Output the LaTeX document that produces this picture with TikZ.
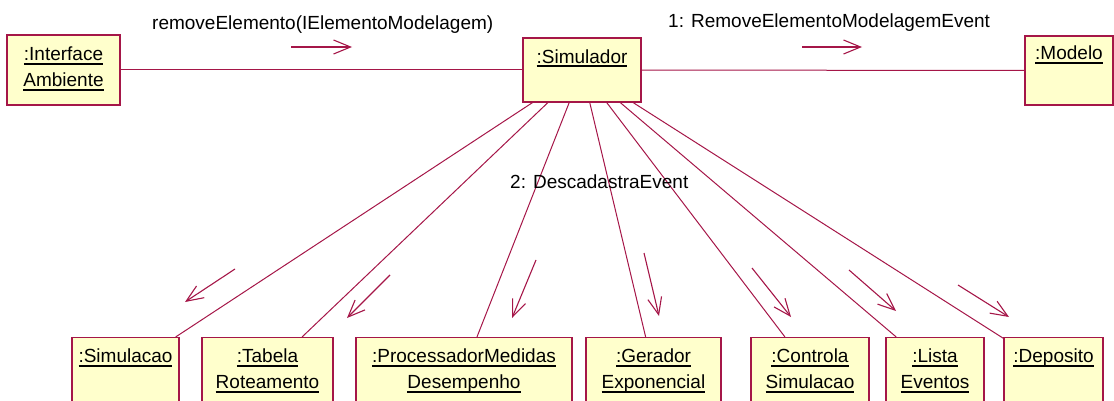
\documentclass[tikz,border=0pt]{standalone}
\usepackage{fontspec}
\setmainfont{Liberation Sans}
\usetikzlibrary{arrows.meta}

\definecolor{umlline}{RGB}{165,22,72}
\definecolor{umlfill}{RGB}{255,255,204}

% underlined object name with a fixed rule below the baseline
\newcommand\uln[1]{\setbox0\hbox{#1}\rlap{\rule[-3.6pt]{\wd0}{1.9pt}}\box0}
% two-line object name, baseline on the first line
\newcommand\objtwo[2]{\begin{tabular}[t]{@{}c@{}}\uln{#1}\\\uln{#2}\end{tabular}}

\begin{document}
\begin{tikzpicture}[x=1pt,y=-1pt,
  obj/.style={draw=umlline,fill=umlfill,line width=1.1pt,inner sep=0pt},
  objname/.style={anchor=base,inner sep=0pt,font=\fontsize{19}{26}\selectfont},
  msg/.style={anchor=base west,inner sep=0pt,font=\fontsize{19}{23}\selectfont},
  link/.style={draw=umlline,line width=1pt},
  flow/.style={draw=umlline,line width=1.1pt,-{Straight Barb[length=17pt,width=14pt,line width=1.1pt]}}]

\useasboundingbox (0,0) rectangle (1114,401);
\clip (0,0) rectangle (1114,401);

% ---- objects on the top row
\node[obj,minimum width=113pt,minimum height=70pt] (iface) at (63.5,70) {};
\node[obj,minimum width=118pt,minimum height=64pt] (sim) at (582,70) {};
\node[obj,minimum width=88pt,minimum height=69pt] (modelo) at (1069,70.5) {};

% ---- objects on the bottom row
\begin{scope}[every node/.append style={minimum height=65pt}]
\node[obj,minimum width=107pt] (simc) at (125.5,370) {};
\node[obj,minimum width=131pt] (tab)  at (267.5,370) {};
\node[obj,minimum width=216pt] (proc) at (464,370) {};
\node[obj,minimum width=135pt] (ger)  at (653.5,370) {};
\node[obj,minimum width=118pt] (ctl)  at (810,370) {};
\node[obj,minimum width=98pt]  (lst)  at (935,370) {};
\node[obj,minimum width=99pt]  (dep)  at (1053.5,370) {};
\end{scope}

% ---- links between the objects
\path[link] (iface) -- (sim);
\path[link] (sim) -- (modelo);
\foreach \t in {simc,tab,proc,ger,ctl,lst,dep}
  \path[link] (sim) -- (\t);

% ---- object names
\node[objname] (iface-t) at ([yshift=-26.5pt]iface.north) {\objtwo{:Interface}{Ambiente}};
\node[objname] (sim-t)   at ([yshift=-26pt]sim.north) {\uln{:Simulador}};
\node[objname] (mod-t)   at ([yshift=-24.5pt]modelo.north) {\uln{:Modelo}};
\node[objname] (simc-t)  at ([yshift=-26pt]simc.north) {\uln{:Simulacao}};
\node[objname] (tab-t)   at ([yshift=-26pt]tab.north) {\objtwo{:Tabela}{Roteamento}};
\node[objname] (proc-t)  at ([yshift=-26pt]proc.north) {\objtwo{:ProcessadorMedidas}{Desempenho}};
\node[objname] (ger-t)   at ([yshift=-26pt]ger.north) {\objtwo{:Gerador}{Exponencial}};
\node[objname] (ctl-t)   at ([yshift=-26pt]ctl.north) {\objtwo{:Controla}{Simulacao}};
\node[objname] (lst-t)   at ([yshift=-26pt]lst.north) {\objtwo{:Lista}{Eventos}};
\node[objname] (dep-t)   at ([yshift=-26pt]dep.north) {\uln{:Deposito}};

% ---- messages
\node[msg] (m0) at (152,30) {removeElemento(IElementoModelagem)};
\node[msg] (m1) at (668,28) {1: RemoveElementoModelagemEvent};
\node[msg] (m2) at (510,189) {2: DescadastraEvent};

\coordinate (a0s) at (291,47);  \coordinate (a0e) at (352,47);
\coordinate (a1s) at (802,47);  \coordinate (a1e) at (862,47);
\coordinate (b1s) at (235,269); \coordinate (b1e) at (185,302);
\coordinate (b2s) at (390,275); \coordinate (b2e) at (347,318);
\coordinate (b3s) at (536,260); \coordinate (b3e) at (512,318);
\coordinate (b4s) at (644,253); \coordinate (b4e) at (659,316);
\coordinate (b5s) at (752,268); \coordinate (b5e) at (791,317);
\coordinate (b6s) at (849,270); \coordinate (b6e) at (896,311);
\coordinate (b7s) at (958,285); \coordinate (b7e) at (1009,317);

\draw[flow] (a0s) -- (a0e);
\draw[flow] (a1s) -- (a1e);
\foreach \i in {1,...,7}
  \draw[flow] (b\i s) -- (b\i e);
\end{tikzpicture}
\end{document}
